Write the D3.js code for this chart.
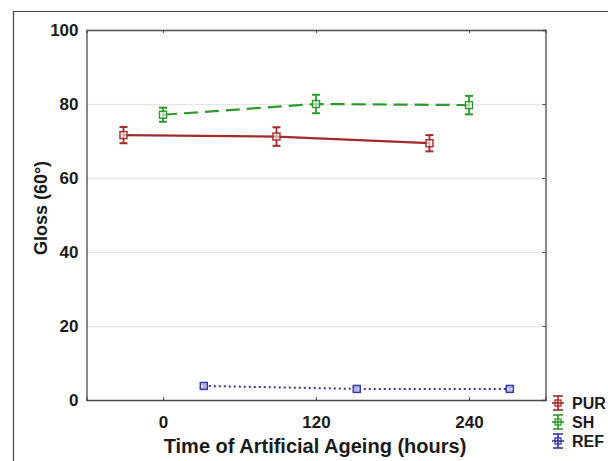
<!DOCTYPE html>
<html>
<head>
<meta charset="utf-8">
<script src="https://cdn.jsdelivr.net/npm/d3@7"></script>
<style>
  body { margin: 0; background: #fff; }
  svg { display: block; font-family: "Liberation Sans", Arial, sans-serif; }
</style>
</head>
<body>
<div id="chart"></div>
<script>
// data
var hours = [0, 120, 240];
var yTicks = [0, 20, 40, 60, 80, 100];
var seriesNames = ["PUR", "SH", "REF"];
var seriesColors = ["#a32a2a", "#2e9a2e", "#3535a8"];
var seriesDash = [null, "14,7", "2,3"];
var seriesOffset = [-31, 0, 32];      // hours, group offset
var purMean = [71.6, 71.2, 69.4];
var purErr = [2.2, 2.5, 2.2];
var shMean = [77.1, 80.0, 79.7];
var shErr = [1.9, 2.5, 2.5];
var refMean = [3.8, 3.0, 3.0];
var refErr = [0.5, 0.5, 0.5];

var W = 608, H = 461;
var margin = {left: 88, top: 30, right: 62, bottom: 61};

var svg = d3.select("#chart").append("svg")
    .attr("width", W)
    .attr("height", H);

// outer frame (left + top)
svg.append("path")
    .attr("d", "M13.5," + H + "V11.5H" + W)
    .attr("fill", "none")
    .attr("stroke", "#444")
    .attr("stroke-width", 1.2);

var x = d3.scaleLinear().domain([-60, 300]).range([margin.left - 1.5, W - margin.right - 0.5]);
var y = d3.scaleLinear().domain([0, 100]).range([H - margin.bottom, margin.top]);

var g = svg.append("g");

// grid
g.selectAll("line.grid")
  .data(yTicks.filter(function(d) { return d > 0 && d < 100; }))
  .enter().append("line")
    .attr("class", "grid")
    .attr("x1", x(-60)).attr("x2", x(300))
    .attr("y1", function(d) { return y(d) + 0.5; })
    .attr("y2", function(d) { return y(d) + 0.5; })
    .attr("stroke", "#e6e6e6")
    .attr("stroke-width", 1.3);

// axes
var axL = d3.axisLeft(y).tickValues(yTicks).tickSize(0).tickPadding(8);
var axB = d3.axisBottom(x).tickValues(hours).tickSize(-3).tickPadding(16);
var axT = d3.axisTop(x).tickValues(hours).tickSize(-3).tickFormat("");
var axR = d3.axisRight(y).tickValues(yTicks).tickSize(-3).tickFormat("");

g.append("g").attr("transform", "translate(" + x(-60) + ",0)").call(axL);
g.append("g").attr("transform", "translate(0," + y(0) + ")").call(axB);
g.append("g").attr("transform", "translate(0," + y(100) + ")").call(axT);
g.append("g").attr("transform", "translate(" + x(300) + ",0)").call(axR);

g.selectAll(".domain").attr("stroke", "#4a4a4a").attr("stroke-width", 1.3);
g.selectAll(".tick line").attr("stroke", "#4a4a4a");
g.selectAll(".tick text")
    .attr("fill", "#1a1a1a")
    .style("font-size", "17px")
    .style("font-weight", "bold");

// axis titles
svg.append("text")
    .attr("transform", "translate(47," + (y(50) - 7) + ") rotate(-90)")
    .attr("text-anchor", "middle")
    .style("font-size", "18px")
    .style("font-weight", "bold")
    .attr("fill", "#1a1a1a")
    .text("Gloss (60°)");

svg.append("text")
    .attr("x", x(120) - 1)
    .attr("y", 453)
    .attr("text-anchor", "middle")
    .style("font-size", "20px")
    .style("font-weight", "bold")
    .attr("fill", "#1a1a1a")
    .text("Time of Artificial Ageing (hours)");

// series
var series = [
  {name: "PUR", mean: purMean, err: purErr},
  {name: "SH", mean: shMean, err: shErr},
  {name: "REF", mean: refMean, err: refErr}
];

var line = d3.line()
    .x(function(d) { return x(d.h); })
    .y(function(d) { return y(d.v); });

series.forEach(function(s, i) {
  var pts = hours.map(function(h, j) {
    return {h: h + seriesOffset[i], v: s.mean[j], e: s.err[j]};
  });
  var col = seriesColors[i];
  var sg = g.append("g");

  sg.append("path")
      .datum(pts)
      .attr("d", line)
      .attr("fill", "none")
      .attr("stroke", col)
      .attr("stroke-width", i == 2 ? 2 : 2.2)
      .attr("stroke-dasharray", seriesDash[i]);

  var pt = sg.selectAll("g.pt").data(pts).enter().append("g")
      .attr("transform", function(d) { return "translate(" + x(d.h) + "," + y(d.v) + ")"; });

  pt.append("line")
      .attr("y1", function(d) { return y(d.v + d.e) - y(d.v); })
      .attr("y2", function(d) { return y(d.v - d.e) - y(d.v); })
      .attr("stroke", col).attr("stroke-width", 1.8);
  pt.append("line")
      .attr("x1", -4).attr("x2", 4)
      .attr("y1", function(d) { return y(d.v + d.e) - y(d.v); })
      .attr("y2", function(d) { return y(d.v + d.e) - y(d.v); })
      .attr("stroke", col).attr("stroke-width", 2);
  pt.append("line")
      .attr("x1", -4).attr("x2", 4)
      .attr("y1", function(d) { return y(d.v - d.e) - y(d.v); })
      .attr("y2", function(d) { return y(d.v - d.e) - y(d.v); })
      .attr("stroke", col).attr("stroke-width", 2);
  pt.append("rect")
      .attr("x", -3.5).attr("y", -3.5)
      .attr("width", 7).attr("height", 7)
      .attr("fill", "#fff")
      .attr("fill-opacity", 0.6)
      .attr("stroke", col)
      .attr("stroke-width", 1.4);
});

// legend
var lg = svg.append("g").attr("transform", "translate(558,403)");
seriesNames.forEach(function(n, i) {
  var row = lg.append("g").attr("transform", "translate(0," + (i * 19) + ")");
  var col = seriesColors[i];
  row.append("line").attr("y1", -7).attr("y2", 7).attr("stroke", col).attr("stroke-width", 1.6);
  row.append("line").attr("x1", -5).attr("x2", 5).attr("y1", -7).attr("y2", -7).attr("stroke", col).attr("stroke-width", 1.6);
  row.append("line").attr("x1", -5).attr("x2", 5).attr("y1", 7).attr("y2", 7).attr("stroke", col).attr("stroke-width", 1.6);
  row.append("line").attr("x1", -6).attr("x2", 6).attr("y1", 0).attr("y2", 0).attr("stroke", col).attr("stroke-width", 1.6);
  row.append("rect").attr("x", -3).attr("y", -3).attr("width", 6).attr("height", 6)
      .attr("fill", "none").attr("stroke", col).attr("stroke-width", 1.3);
  row.append("text")
      .attr("x", 14).attr("y", 6)
      .style("font-size", "16px")
      .style("font-weight", "bold")
      .attr("fill", "#1a1a1a")
      .text(n);
});
</script>
</body>
</html>
